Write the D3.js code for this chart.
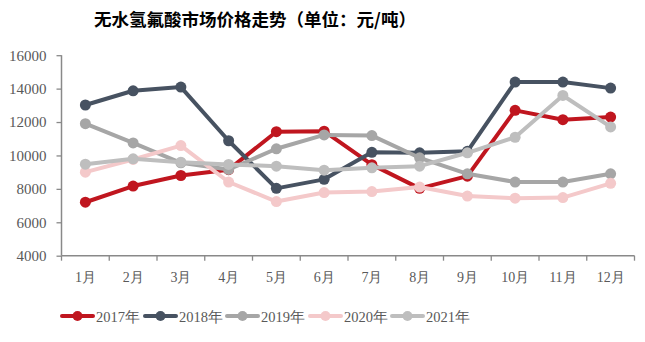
<!DOCTYPE html>
<html><head><meta charset="utf-8">
<script src="https://cdn.jsdelivr.net/npm/d3@7"></script>
<style>body{margin:0;background:#fff}svg{display:block}</style>
</head><body>
<svg id="c" width="645" height="342"></svg>
<script>
const months = ["1月","2月","3月","4月","5月","6月","7月","8月","9月","10月","11月","12月"];
const yTicks = [4000,6000,8000,10000,12000,14000,16000];
const seriesNames = ["2017年","2018年","2019年","2020年","2021年"];
const colors = ["#C0161F","#475261","#A6A6A6","#F4C9CA","#BEBEBE"];
const s2017 = [7200,8170,8800,9150,11420,11450,9450,8030,8760,12700,12140,12300];
const s2018 = [13020,13870,14090,10880,8030,8570,10190,10160,10250,14390,14390,14030];
const s2019 = [11900,10750,9560,9160,10400,11230,11190,9860,8900,8410,8410,8900];
const s2020 = [9000,9760,10590,8410,7240,7780,7840,8110,7570,7440,7480,8330];
const s2021 = [9480,9800,9600,9460,9360,9120,9260,9360,10160,11090,13590,11710];
const allSeries = [s2017,s2018,s2019,s2020,s2021];

const svg = d3.select("#c");
const x = d3.scaleBand().domain(months).range([61.5, 634.5]);
const y = d3.scaleLinear().domain([4000,16000]).range([255.7, 55.2]);

svg.append("text").attr("x",255).attr("y",26).attr("text-anchor","middle")
  .attr("font-family","'Noto Sans CJK SC'").attr("font-weight","bold").attr("font-size",17.5)
  .attr("fill","#000").text("无水氢氟酸市场价格走势（单位：元/吨）");

const axisColor = "#898989";
const yAxis = svg.append("g").attr("transform","translate(61.5,0)")
  .call(d3.axisLeft(y).tickValues(yTicks).tickSize(5).tickPadding(10).tickFormat(d3.format("d")));
const xAxis = svg.append("g").attr("transform","translate(0,255.7)")
  .call(d3.axisBottom(x).tickSize(5).tickPadding(11));
xAxis.selectAll(".tick line").remove();
const edges = months.map(m => x(m)).concat([x.range()[1]]);
xAxis.selectAll(".edge").data(edges).enter().append("line")
  .attr("x1",d=>d).attr("x2",d=>d).attr("y1",0).attr("y2",5).attr("stroke",axisColor).attr("stroke-width",1.3);
[yAxis,xAxis].forEach(a=>{
  a.select(".domain").attr("stroke",axisColor).attr("stroke-width",1.5);
  a.selectAll(".tick line").attr("stroke",axisColor).attr("stroke-width",1.3);
  a.selectAll("text").attr("fill","#595959").attr("font-family","'Liberation Serif'");
});
yAxis.select(".domain").attr("d","M0,55.2V255.7");
xAxis.select(".domain").attr("d","M61.5,0H634.5");
yAxis.selectAll("text").attr("font-size",15);
xAxis.selectAll("text").attr("font-size",14);

const line = d3.line().x((d,i)=>x(months[i])+x.bandwidth()/2).y(d=>y(d));
allSeries.forEach((s,k)=>{
  const g = svg.append("g");
  g.append("path").datum(s).attr("d",line).attr("fill","none")
    .attr("stroke",colors[k]).attr("stroke-width",4).attr("stroke-linejoin","round");
  g.selectAll("circle").data(s).enter().append("circle")
    .attr("cx",(d,i)=>x(months[i])+x.bandwidth()/2).attr("cy",d=>y(d)).attr("r",5.5)
    .attr("fill",colors[k]);
});

const legX = [62,145,227,310,392];
seriesNames.forEach((n,k)=>{
  const g = svg.append("g").attr("transform",`translate(${legX[k]},316)`);
  g.append("line").attr("x1",0).attr("x2",31).attr("y1",0).attr("y2",0)
    .attr("stroke",colors[k]).attr("stroke-width",4).attr("stroke-linecap","round");
  g.append("circle").attr("cx",15.5).attr("cy",0).attr("r",5).attr("fill",colors[k]);
  g.append("text").attr("x",34).attr("y",5.5).attr("font-family","'Liberation Serif'")
    .attr("font-size",14.5).attr("fill","#595959").text(n);
});
</script>
</body></html>
